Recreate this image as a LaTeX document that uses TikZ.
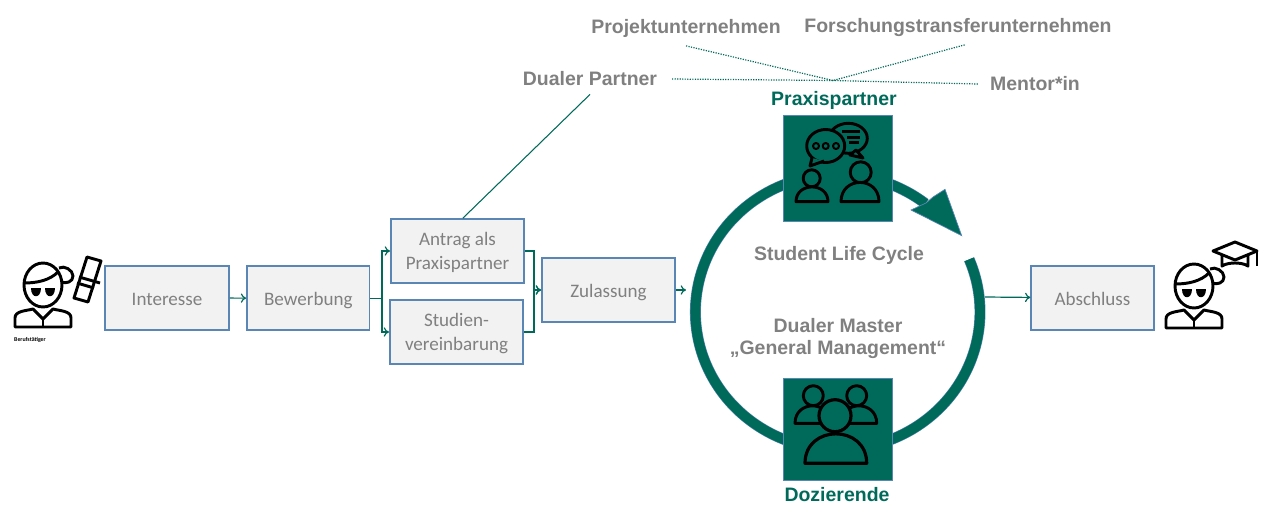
\documentclass[tikz,border=0pt]{standalone}
\usepackage{xcolor}
\usepackage{tikz}
\usepackage{fontspec}
\usetikzlibrary{arrows.meta}
\setmainfont{Carlito}
\newfontfamily\headfont{Liberation Sans}
\definecolor{dualgreen}{HTML}{006A5A}
\definecolor{boxblue}{HTML}{5A86B5}
\definecolor{boxgray}{HTML}{F2F2F2}
\definecolor{textgray}{HTML}{808080}
\tikzset{
    stepbox/.style={draw=boxblue,line width=1.2pt,fill=boxgray,text=textgray,minimum width=93pt,minimum height=48pt,align=center,inner sep=0pt,text depth=0pt,font=\fontsize{14.3}{17.5}\selectfont},
    oneline/.style={stepbox,text height=10.5pt},
    grayhead/.style={text=textgray,inner sep=6pt,align=center,font=\headfont\bfseries\fontsize{14.6}{16.5}\selectfont},
    greenhead/.style={text=dualgreen,inner sep=0pt,font=\headfont\bfseries\fontsize{14.6}{16.5}\selectfont},
    iconbox/.style={draw=boxblue,line width=0.5pt,fill=dualgreen,minimum width=81.5pt,inner sep=0pt},
    flow/.style={-{To[length=4pt,width=7pt]},dualgreen,line width=0.9pt},
    dotline/.style={dualgreen,densely dotted,line width=0.9pt},
    icon/.style={black,line width=2.2pt,line join=round},
    iconfill/.style={icon,fill=dualgreen},
    student/.pic={
        \draw[icon] (15,327) -- (15,318) .. controls (15,311) and (25,311) .. (33,309) -- (43,319) -- (53,309) .. controls (61,311) and (71,311) .. (71,318) -- (71,327) -- cycle;
        \draw[icon] (43,319) -- (43,327);
        \draw[icon] (43,285) ellipse (19 and 22);
        \draw[icon] (24,283) .. controls (38,283) and (50,280) .. (58,272);
        \draw[icon] (59,268) .. controls (64,265) and (73,270) .. (73,276) .. controls (73,282) and (66,284) .. (61,282);
        \fill[black] (31,288) -- (41,288) .. controls (41,299) and (31,299) .. (31,288) -- cycle;
        \fill[black] (45,288) -- (55,288) .. controls (55,299) and (45,299) .. (45,288) -- cycle;
    }
}
\newcommand{\dome}[4]{(#1,#3) .. controls (#1,#4) and (#2,#4) .. (#2,#3) -- cycle}
\begin{document}
\begin{tikzpicture}[x=0.75pt,y=-0.75pt]
        \useasboundingbox (0,0) rectangle (1261,504);
        \node[oneline] (interesse) at (167,298) {Interesse};
        \node[oneline,minimum width=92pt] (bewerbung) at (308.3,298.2) {Bewerbung};
        \node[stepbox,minimum width=100pt] (antrag) at (457.5,251) {Antrag als\\Praxispartner};
        \node[stepbox,minimum width=100pt] (vereinbarung) at (456.5,332) {Studien-\\vereinbarung};
        \node[oneline,minimum width=100pt] (zulassung) at (608.5,290) {Zulassung};
        \node[oneline,minimum width=92pt] (abschluss) at (1092.5,298) {Abschluss};
        \coordinate (ringin) at (686,290);
        \coordinate (ringout) at (985,297);
        \draw[flow] (interesse) -- (bewerbung);
        \draw[flow] (bewerbung.east) -- ++(11.5,0) |- (antrag.west);
        \draw[flow] (bewerbung.east) -- ++(11.5,0) |- (vereinbarung.west);
        \draw[flow] (antrag.east) -- ++(9,0) |- (zulassung.west);
        \draw[flow] (vereinbarung.east) -- ++(10,0) |- (zulassung.west);
        \draw[flow] (zulassung) -- (ringin);
        \draw[flow] (ringout) -- (abschluss);
        \draw[draw=boxblue,line width=0.4pt,double=dualgreen,double distance=7.4pt] plot[domain=-22.5:308,samples=140,smooth] ({837.7+142.3*cos(\x)},{312+137.6*sin(\x)});
        \draw[draw=boxblue,line width=0.5pt,fill=dualgreen] (961.7,235.7) -- (945,189.3) -- (933,197) -- (926,203) -- (911,210) -- cycle;
        \node[iconbox,minimum height=79.5pt] (praxis) at (837.5,168) {};
        \node[iconbox,minimum height=76.5pt] (dozent) at (837.5,429) {};
        \node[greenhead] (praxislabel) at (834,100.5) {Praxispartner};
        \node[greenhead] (dozentlabel) at (837,494.5) {Dozierende};
        \node[grayhead] (cycle) at (839,255) {Student Life Cycle};
        \node[grayhead] (master) at (838,339) {Dualer Master\\„General Management“};
        \node[grayhead] (partner) at (590,79) {Dualer Partner};
        \node[grayhead] (projekt) at (686,28.5) {Projektunternehmen};
        \node[grayhead] (transfer) at (958,27.5) {Forschungstransferunternehmen};
        \node[grayhead] (mentor) at (1035,84) {Mentor*in};
        \coordinate (fan) at (833,80.5);
        \draw[dualgreen,line width=0.8pt] ([xshift=4pt]antrag.north) -- (partner.south);
        \draw[dotline] ([xshift=5pt]partner.east) -- (fan);
        \draw[dotline] (projekt.south) -- (fan);
        \draw[dotline] ([xshift=5pt]transfer.south) -- (fan);
        \draw[dotline] ([xshift=-3pt]mentor.west) -- (fan);
        \draw[icon,fill=dualgreen] (848.3,138.3) ellipse (19 and 15);
        \draw[icon,fill=dualgreen] (856,150) -- (863,158) -- (850,155) -- cycle;
        \draw[icon] (842,131.7) -- (860,131.7) (847,137.3) -- (860,137.3) (849,142.7) -- (859,142.7);
        \draw[iconfill] (825.7,146) ellipse (19 and 16.5);
        \draw[iconfill] (812,158) -- (810,166) -- (824,161);
        \draw[icon,line width=1.5pt] (816,146) circle (3) (825.7,146) circle (3) (836,146) circle (3);
        \draw[iconfill] (811.7,178.3) circle (8.5);
        \draw[iconfill] (860.7,172.3) circle (10.5);
        \draw[iconfill] \dome{796}{828}{201.7}{182};
        \draw[iconfill] \dome{841}{879}{201.7}{176};
        \draw[iconfill] (813.3,395.7) circle (10);
        \draw[iconfill] (856.7,395.7) circle (10);
        \draw[iconfill] \dome{795}{830}{423.3}{400};
        \draw[iconfill] \dome{841}{876.7}{423.3}{400};
        \draw[iconfill,line width=2.4pt] (835,415.7) circle (16);
        \draw[iconfill,line width=2.4pt] \dome{805}{866.7}{463.3}{424};
        \pic at (0,0) {student};
        \pic at (1151,1) {student};
        \draw[icon] (87,257) -- (101,261) -- (88,302) -- (74,298) -- cycle;
        \draw[icon] (79,277) -- (100,283) (77,283) -- (94,288);
        \node[inner sep=0pt,font=\bfseries\fontsize{4.4}{5}\selectfont] (role) at (30,339.5) {Berufstätiger};
        \draw[icon] (1235,242) -- (1257,251) -- (1235,260) -- (1213,251) -- cycle;
        \draw[icon] (1222,255) -- (1222,266) .. controls (1228,262) and (1242,262) .. (1248,266) -- (1248,255);
        \draw[icon] (1257,251) -- (1257,266);
    \end{tikzpicture}
\end{document}
